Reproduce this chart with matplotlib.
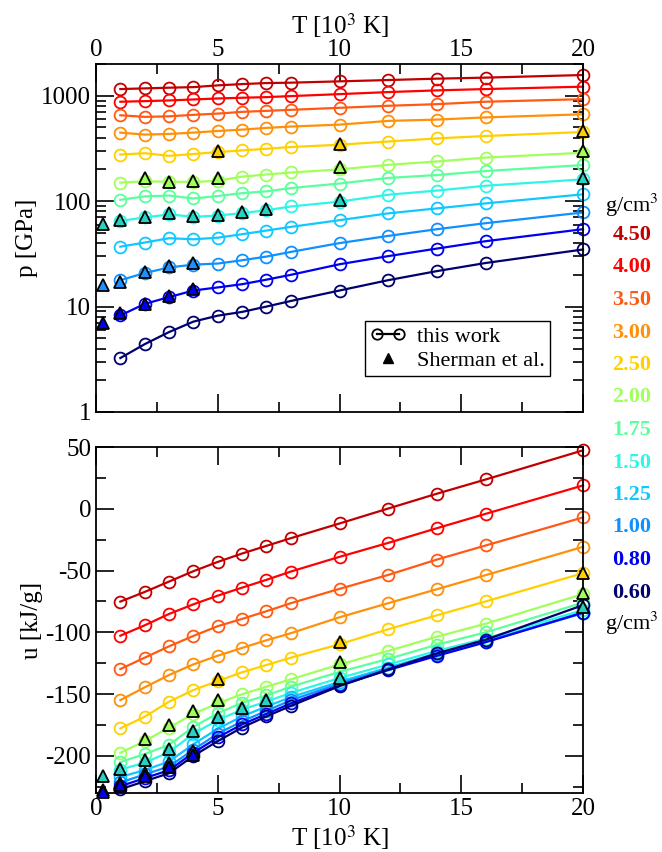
"""Pressure and internal energy isochores vs temperature, with Sherman et al. points."""

import matplotlib
matplotlib.use("Agg")
import matplotlib.pyplot as plt
from matplotlib.legend_handler import HandlerLine2D
from matplotlib.lines import Line2D
from matplotlib.ticker import FixedLocator, FuncFormatter, LogLocator, MultipleLocator, NullFormatter

plt.rcParams["font.family"] = ["Liberation Serif", "DejaVu Serif"]
plt.rcParams["mathtext.fontset"] = "stix"
plt.rcParams["axes.unicode_minus"] = False

# temperatures of this work, 10^3 K
T = [1, 2, 3, 4, 5, 6, 7, 8, 10, 12, 14, 16, 20]

densities = ["4.50", "4.00", "3.50", "3.00", "2.50", "2.00", "1.75", "1.50", "1.25", "1.00", "0.80", "0.60"]
colors = ["#c00000", "#ff0000", "#ff5a14", "#ff900a", "#ffd000", "#a0ff5a", "#5cff9c",
          "#2ef5e6", "#10c8ff", "#1090ff", "#0000f0", "#00006e"]

# pressure [GPa], one list per density
p_450 = [1157, 1174, 1192, 1207, 1254, 1290, 1319, 1330, 1369, 1409, 1452, 1485, 1572]
p_400 = [877, 889, 902, 922, 942, 957, 970, 992, 1036, 1083, 1124, 1157, 1219]
p_350 = [653, 630, 638, 659, 677, 703, 719, 735, 768, 803, 832, 877, 928]
p_300 = [447, 428, 434, 447, 463, 477, 495, 510, 532, 577, 594, 623, 667]
p_250 = [277, 285, 269, 280, 292, 303, 314, 326, 343, 368, 394, 415, 453]
p_200 = [150, 154, 153, 152, 156, 171, 179, 187, 200, 221, 238, 259, 288]
p_175 = [103, 111, 113, 106, 112, 119, 124, 133, 147, 166, 177, 193, 220]
p_150 = [65, 70, 75, 71, 73, 77, 82, 89, 99, 115, 126, 140, 161]
p_125 = [37, 40.5, 44.5, 43.5, 45, 48.6, 52.6, 57, 66, 76.6, 85.4, 95.3, 116]
p_100 = [17.8, 20.8, 23.5, 25, 25.6, 27.5, 29.8, 33, 40, 46.8, 54.2, 61.8, 78.1]
p_080 = [8.24, 10.6, 12.3, 14.2, 15.2, 16.3, 18.0, 20.0, 25.2, 30.1, 35.5, 41.7, 54.2]
p_060 = [3.25, 4.4, 5.73, 7.2, 8.2, 8.9, 10.0, 11.3, 14.2, 17.8, 21.7, 25.9, 34.8]

# internal energy [kJ/g], one list per density
u_450 = [-75.1, -67.3, -58.9, -50.5, -43.0, -36.2, -30.0, -23.8, -11.9, 0.2, 12.2, 23.7, 47.3]
u_400 = [-102.7, -94.3, -85.1, -77.3, -70.3, -63.8, -57.5, -50.8, -38.9, -27.6, -15.7, -4.1, 18.9]
u_350 = [-129.7, -120.5, -111.3, -102.9, -95.0, -89.1, -82.9, -76.4, -64.8, -53.5, -41.1, -29.7, -7.0]
u_300 = [-154.8, -144.5, -134.5, -125.9, -118.9, -112.6, -106.4, -100.7, -87.8, -76.4, -65.1, -53.7, -30.8]
u_250 = [-177.7, -168.3, -156.1, -146.7, -139.4, -132.3, -126.4, -120.5, -109.6, -97.5, -86.2, -75.0, -52.1]
u_200 = [-197.5, -188.0, -177.0, -166.0, -157.5, -150.0, -144.0, -138.0, -126.0, -115.0, -103.5, -93.0, -69.0]
u_175 = [-205.0, -198.5, -191.0, -176.5, -165.5, -157.0, -151.0, -144.0, -132.0, -121.5, -110.0, -100.0, -76.0]
u_150 = [-211.0, -205.5, -197.0, -182.0, -171.0, -162.5, -156.0, -149.0, -137.0, -126.0, -115.0, -105.0, -82.0]
u_125 = [-217.0, -211.5, -204.5, -190.5, -178.0, -168.0, -160.0, -152.5, -140.0, -128.5, -117.0, -107.0, -84.0]
u_100 = [-221.5, -215.0, -208.5, -195.0, -182.0, -172.0, -163.5, -155.0, -141.5, -129.5, -118.0, -107.5, -84.5]
u_080 = [-224.5, -218.0, -211.5, -197.5, -185.0, -174.5, -166.0, -157.5, -143.0, -130.5, -119.0, -108.0, -84.0]
u_060 = [-227.0, -220.5, -214.0, -200.0, -188.0, -177.0, -168.0, -159.5, -143.5, -130.0, -117.0, -106.0, -78.0]

# Sherman et al. reference points (density, T, p, u)
sh_rho = ["2.50", "2.00", "1.50", "1.00", "0.80"]
sh_T = [[5, 10, 20],
        [2, 3, 4, 5, 10, 20],
        [0.3, 1, 2, 3, 4, 5, 6, 7, 10, 20],
        [0.3, 1, 2, 3, 4],
        [0.3, 1, 2, 3, 4]]
sh_p = [[296, 349, 466],
        [166, 153, 155, 166, 210, 296],
        [61, 66, 71, 77, 73, 74, 79, 84, 103, 166],
        [16.0, 17.0, 21.4, 24.2, 25.7],
        [7.06, 8.7, 10.6, 12.5, 14.7]]
sh_u = [[-138.0, -107.5, -51.6],
        [-186.6, -175.0, -163.7, -155.0, -124.0, -68.3],
        [-216.4, -210.7, -203.4, -194.7, -180.0, -168.3, -161.0, -155.0, -136.7, -79.2],
        [-227.2, -221.8, -213.7, -206.0, -196.1],
        [-229.0, -223.7, -216.4, -208.8, -199.0]]
sh_fill = {"2.50": "#ffd000", "2.00": "#a0ff5a", "1.50": "#28d2c0", "1.00": "#1e90ff", "0.80": "#0000f0"}

p_work = [p_450, p_400, p_350, p_300, p_250, p_200, p_175, p_150, p_125, p_100, p_080, p_060]
u_work = [u_450, u_400, u_350, u_300, u_250, u_200, u_175, u_150, u_125, u_100, u_080, u_060]

FS = 18
W, H = 662, 852
fig = plt.figure(figsize=(W / 100, H / 100), dpi=100)
ax1 = fig.add_axes([96 / W, 1 - 412 / H, 487 / W, 348 / H])
ax2 = fig.add_axes([96 / W, 1 - 793 / H, 487 / W, 346 / H])

line_kw = dict(lw=1.6, marker="o", ms=8.5, mfc="none", mew=1.3)
tri_kw = dict(ls="none", marker="^", ms=8, mec="black", mew=1.3, clip_on=False, zorder=5)

for rho, c, p, u in zip(densities, colors, p_work, u_work):
    ax1.plot(T, p, color=c, clip_on=False, **line_kw)
    ax2.plot(T, u, color=c, clip_on=False, **line_kw)

for rho, ts, ps, us in zip(sh_rho, sh_T, sh_p, sh_u):
    ax1.plot(ts, ps, mfc=sh_fill[rho], **tri_kw)
    ax2.plot(ts, us, mfc=sh_fill[rho], **tri_kw)

for ax in (ax1, ax2):
    ax.set_xlim(0, 20)
    ax.xaxis.set_major_locator(MultipleLocator(5))
    ax.xaxis.set_minor_locator(MultipleLocator(2.5))
    ax.tick_params(which="both", direction="in", top=True, right=True, width=1.2, labelsize=FS)
    ax.tick_params(which="major", length=13)
    ax.tick_params(which="minor", length=7)
    for s in ax.spines.values():
        s.set_linewidth(1.3)

ax1.set_yscale("log")
ax1.set_ylim(1, 2000)
ax1.yaxis.set_major_locator(FixedLocator([1, 10, 100, 1000]))
ax1.yaxis.set_major_formatter(FuncFormatter(lambda v, _: f"{v:g}"))
ax1.yaxis.set_minor_locator(LogLocator(base=10, subs=range(2, 10)))
ax1.yaxis.set_minor_formatter(NullFormatter())
ax1.tick_params(axis="x", labeltop=True, labelbottom=False, pad=2)
ax1.xaxis.set_label_position("top")
ax1.set_xlabel("T [10$^3$ K]", fontsize=FS, labelpad=4)
ax1.set_ylabel("p [GPa]", fontsize=FS, labelpad=2)

ax2.set_ylim(-230, 50)
ax2.yaxis.set_major_locator(MultipleLocator(50))
ax2.yaxis.set_minor_locator(MultipleLocator(25))
ax2.set_xlabel("T [10$^3$ K]", fontsize=FS, labelpad=2)
ax2.set_ylabel("u [kJ/g]", fontsize=FS, labelpad=2)

h_work = Line2D([], [], color="black", lw=1.6, marker="o", ms=7.5, mfc="none", mew=1.3)
h_sher = Line2D([], [], ls="none", marker="^", ms=7, color="black")
leg = ax1.legend([h_work, h_sher], ["this work", "Sherman et al."], numpoints=2, fontsize=16,
                 loc="lower left", bbox_to_anchor=(0.552, 0.103), borderaxespad=0,
                 fancybox=False, edgecolor="black", framealpha=1, handlelength=1.6,
                 borderpad=0.25, labelspacing=0.15, handletextpad=0.5,
                 handler_map={h_sher: HandlerLine2D(numpoints=1)})
leg.get_frame().set_linewidth(1.0)

# density key on the right
xk = 632 / W
fig.text(xk, 1 - 205 / H, "g/cm$^3$", ha="center", va="center", fontsize=16)
for i, (rho, c) in enumerate(zip(densities, colors)):
    y = 235 + i * 32.5
    fig.text(xk, 1 - y / H, rho, ha="center", va="center", fontsize=16,
             fontweight="bold", color=c)
fig.text(xk, 1 - 623 / H, "g/cm$^3$", ha="center", va="center", fontsize=16)

fig.savefig("out.png", dpi=100)
